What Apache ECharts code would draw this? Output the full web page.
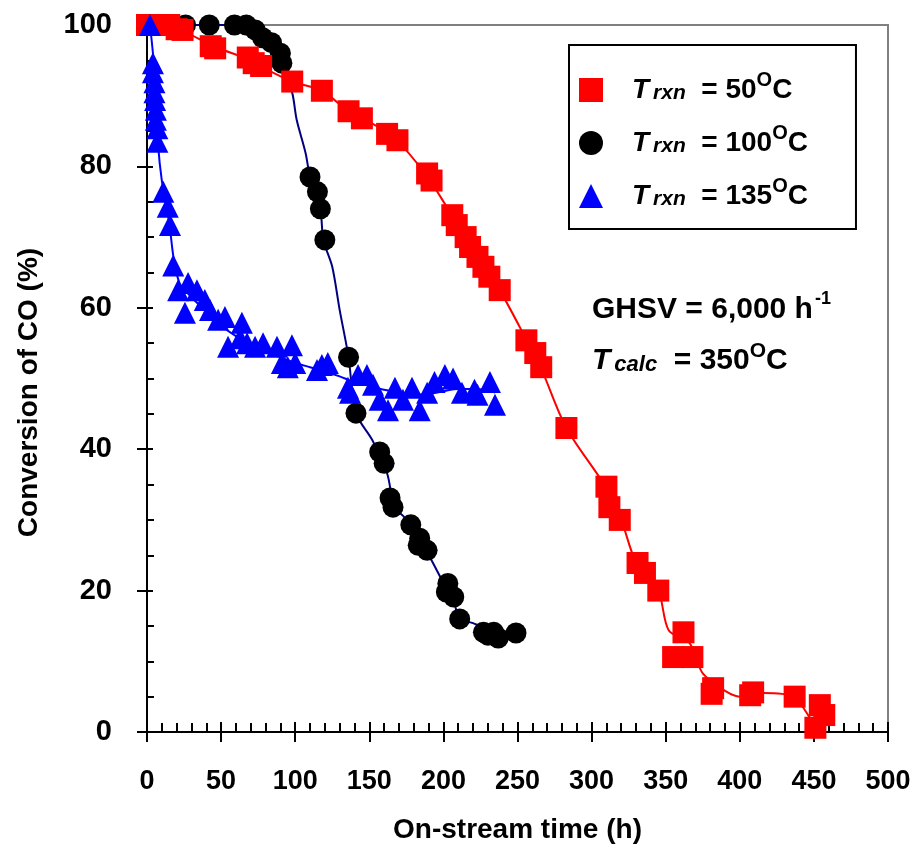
<!DOCTYPE html>
<html>
<head>
<meta charset="utf-8">
<script src="https://cdn.jsdelivr.net/npm/echarts@6/dist/echarts.min.js"></script>
<style>
  html, body { margin: 0; padding: 0; background: #fff; }
  #graphics { width: 914px; height: 852px; }
</style>
</head>
<body>
<div id="graphics"></div>
<script>
// Measured points, T_rxn = 50 C (red squares)
const redTime = [0, 7, 15, 20, 24, 43, 46, 68, 72, 77, 98, 118, 136, 145, 162, 169, 189, 192, 206, 209, 215, 218, 223, 227, 231, 238, 256, 262, 266, 283, 310, 312, 319, 331, 336, 345, 362, 355, 368, 382, 381, 407, 409, 437, 454, 457, 451];
const redConv = [100, 100, 100, 99.4, 99.3, 97, 96.7, 95.4, 94.6, 94.2, 92, 90.7, 87.8, 86.8, 84.6, 83.7, 79, 78, 73.1, 71.7, 70, 68.6, 67.2, 65.8, 64.4, 62.5, 55.4, 53.6, 51.6, 43, 34.7, 31.8, 30, 23.9, 22.5, 20, 14.1, 10.6, 10.6, 6.2, 5.4, 5.2, 5.6, 5, 3.8, 2.4, 0.6];

// Measured points, T_rxn = 100 C (black circles)
const blackTime = [26, 42, 59, 67, 73, 78, 84, 90, 91, 110, 115, 117, 120, 136, 141, 157, 160, 164, 166, 178, 184, 183, 189, 203, 202, 207, 211, 227, 230, 234, 237, 249];
const blackConv = [100, 100, 100, 100, 99.3, 98.2, 97.5, 96, 94.6, 78.5, 76.4, 74, 69.6, 53, 45.1, 39.6, 38, 33.1, 31.8, 29.3, 27.4, 26.4, 25.7, 21, 19.8, 19.1, 16, 14.1, 13.7, 14.1, 13.3, 14];

// Measured points, T_rxn = 135 C (blue triangles)
const blueTime = [2, 4, 4, 5, 5, 5.5, 6, 6, 7, 7, 11, 14, 15.5, 17.7, 21, 25.6, 27.7, 33.7, 39, 42.5, 48, 52.6, 54.7, 62.8, 64, 67.5, 72.9, 78.3, 87.7, 91, 95, 97.8, 100, 114.7, 118, 122, 135.6, 137, 142.4, 148.4, 152.5, 157, 162.6, 167.3, 172.7, 178.8, 184, 189, 194, 201, 206.5, 212.5, 221, 223, 231.4, 234.8];
const blueConv = [100, 94.6, 93.3, 91.9, 90.5, 89.4, 88, 86.6, 85.4, 83.5, 76.4, 74.3, 71.7, 66, 62.5, 59.3, 63.5, 62.5, 61.1, 59.7, 58.3, 58.7, 54.5, 55.7, 57.9, 55, 54.5, 55, 54.5, 52.2, 51.6, 54.7, 52.2, 51.2, 51.9, 52.2, 48.7, 48, 50.5, 50.5, 49.1, 47, 45.5, 48.7, 47, 48.7, 45.5, 48, 49.5, 50.5, 50, 48, 48.4, 47.7, 49.5, 46.3];

// Smoothed curves
const redCurveTime = [0, 10, 20, 26, 45, 70, 78, 98, 118, 136, 150, 167, 189, 206, 220, 238, 256, 266, 283, 310, 320, 330, 345, 352, 366, 375, 391, 400, 416, 436, 447, 451];
const redCurveConv = [100, 100, 99.4, 99, 97, 95, 94, 92, 90.7, 87.8, 86.3, 84, 78.6, 73, 68.5, 62.5, 55.5, 51.4, 43, 34.5, 30, 24, 20, 14.4, 12.6, 8.3, 5.7, 5, 5.5, 5, 2.1, 0.5];
const blackCurveTime = [0, 60, 73, 84, 91, 98, 101, 107, 110, 117, 119, 125, 130, 136, 141, 152, 162, 167, 174, 184, 192, 198, 206, 211, 220, 229, 247];
const blackCurveConv = [100, 100, 99.3, 97.5, 94.6, 90.4, 86.6, 81.9, 78.5, 73.8, 69.6, 65.8, 59.7, 53, 45.1, 41.3, 36.6, 31.8, 30.3, 27.2, 24.3, 21.9, 19.1, 16.1, 15.4, 14.7, 14];
const blueCurveTime = [2, 4, 6, 7.5, 10, 15, 18, 22, 30, 40, 50, 60, 70, 80, 90, 100, 110, 120, 130, 140, 150, 160, 170, 180, 190, 200, 210, 220, 230, 235];
const blueCurveConv = [100, 96, 90, 83, 78, 72, 67, 63.5, 61.5, 59.5, 57.5, 56, 55, 54, 53, 52.2, 51.6, 51, 50.3, 49.5, 49, 48.4, 48, 47.7, 47.8, 48.2, 48.5, 48.5, 48.3, 48];

const xTicks = [0, 50, 100, 150, 200, 250, 300, 350, 400, 450, 500];
const yTicks = [0, 20, 40, 60, 80, 100];

const legendTemps = ['50', '100', '135'];

function pairs(xs, ys) {
    return xs.map((x, i) => [x, ys[i]]);
}

const FONT = '"Liberation Sans", Arial, sans-serif';

var myChart = echarts.init(document.getElementById('graphics'));

// rich text pieces: main text sits in a 40px line, superscripts hang from the line top
const rich = {
    sp: { width: 24, lineHeight: 40 },
    it: { fontFamily: FONT, fontWeight: 'bold', fontStyle: 'italic', fontSize: 28, color: '#000', lineHeight: 40 },
    sub: { fontFamily: FONT, fontWeight: 'bold', fontStyle: 'italic', fontSize: 21, color: '#000', lineHeight: 40, padding: [6, 0, 0, 4] },
    n: { fontFamily: FONT, fontWeight: 'bold', fontSize: 28, color: '#000', lineHeight: 40 },
    sup: { fontFamily: FONT, fontWeight: 'bold', fontSize: 20, color: '#000', lineHeight: 22, verticalAlign: 'top' },
    n2: { fontFamily: FONT, fontWeight: 'bold', fontSize: 30, color: '#000', lineHeight: 40 },
    it2: { fontFamily: FONT, fontWeight: 'bold', fontStyle: 'italic', fontSize: 30, color: '#000', lineHeight: 40 },
    sub2: { fontFamily: FONT, fontWeight: 'bold', fontStyle: 'italic', fontSize: 22, color: '#000', lineHeight: 40, padding: [7, 0, 0, 4] },
    sup2: { fontFamily: FONT, fontWeight: 'bold', fontSize: 21, color: '#000', lineHeight: 17, verticalAlign: 'top' },
    supS: { fontFamily: FONT, fontWeight: 'bold', fontSize: 18, color: '#000', lineHeight: 16, verticalAlign: 'top', padding: [0, 0, 0, 2] }
};

var gridBox = { left: 147, right: 26, top: 25, bottom: 120 };

var option = {
    animation: false,
    backgroundColor: '#fff',
    grid: [
        Object.assign({ show: true, borderColor: '#808080', borderWidth: 2 }, gridBox),
        Object.assign({}, gridBox)
    ],
    legend: {
        orient: 'vertical',
        left: 569,
        top: 45,
        padding: [25, 48, 19, 10],
        itemGap: 19,
        itemWidth: 24,
        itemHeight: 24,
        borderColor: '#000',
        borderWidth: 2,
        data: legendTemps.map(t => 'T_rxn = ' + t + ' C'),
        formatter: function (name) {
            var t = name.replace('T_rxn = ', '').replace(' C', '');
            return '{sp|}{it|T}{sub|rxn}{n|  = ' + t + '}{sup|O}{n|C}';
        },
        textStyle: { rich: rich }
    },
    xAxis: [{
        type: 'value', gridIndex: 0, min: 0, max: 500, interval: 50,
        name: 'On-stream time (h)', nameLocation: 'middle', nameGap: 84,
        nameTextStyle: { fontFamily: FONT, fontWeight: 'bold', fontSize: 28, color: '#000' },
        axisLine: { show: true, onZero: false, lineStyle: { color: '#000', width: 2 } },
        axisTick: { show: true, inside: true, length: 10, lineStyle: { color: '#000', width: 2 } },
        minorTick: { show: true, splitNumber: 5, length: 9, lineStyle: { color: '#000', width: 2 } },
        splitLine: { show: false },
        axisLabel: {
            margin: 36, fontFamily: FONT, fontWeight: 'bold', fontSize: 27, color: '#000',
            formatter: v => xTicks.indexOf(v) >= 0 ? String(v) : ''
        }
    }, {
        type: 'value', gridIndex: 1, min: 0, max: 500, interval: 50,
        axisLine: { show: false },
        axisTick: { show: true, inside: false, length: 10, lineStyle: { color: '#000', width: 2 } },
        axisLabel: { show: false },
        splitLine: { show: false }
    }],
    yAxis: [{
        type: 'value', gridIndex: 0, min: 0, max: 100, interval: 20,
        name: 'Conversion of CO (%)', nameLocation: 'middle', nameGap: 104,
        nameTextStyle: { fontFamily: FONT, fontWeight: 'bold', fontSize: 28, color: '#000', padding: [0, 28, 0, 0] },
        axisLine: { show: true, onZero: false, lineStyle: { color: '#000', width: 2 } },
        axisTick: { show: true, inside: true, length: 6, lineStyle: { color: '#000', width: 2 } },
        minorTick: { show: true, splitNumber: 4, length: 7, lineStyle: { color: '#000', width: 2 } },
        splitLine: { show: false },
        axisLabel: {
            margin: 35, fontFamily: FONT, fontWeight: 'bold', fontSize: 29, color: '#000',
            formatter: v => yTicks.indexOf(v) >= 0 ? String(v) : ''
        }
    }, {
        type: 'value', gridIndex: 1, min: 0, max: 100, interval: 20,
        axisLine: { show: false },
        axisTick: { show: true, inside: false, length: 10, lineStyle: { color: '#000', width: 2 } },
        axisLabel: { show: false },
        splitLine: { show: false }
    }],
    graphic: [{
        type: 'text', left: 592, top: 290,
        style: { text: '{n2|GHSV = 6,000 h}{supS|-1}', rich: rich }
    }, {
        type: 'text', left: 592, top: 341,
        style: { text: '{it2|T}{sub2|calc}{n2|  = 350}{sup2|O}{n2|C}', rich: rich }
    }],
    series: [{
        type: 'line', xAxisIndex: 0, yAxisIndex: 0, z: 2,
        data: pairs(blackCurveTime, blackCurveConv), smooth: 0.3, showSymbol: false,
        lineStyle: { color: '#000080', width: 2 }
    }, {
        type: 'line', xAxisIndex: 0, yAxisIndex: 0, z: 2,
        data: pairs(redCurveTime, redCurveConv), smooth: 0.3, showSymbol: false,
        lineStyle: { color: '#ff0000', width: 2 }
    }, {
        type: 'line', xAxisIndex: 0, yAxisIndex: 0, z: 2,
        data: pairs(blueCurveTime, blueCurveConv), smooth: 0.3, showSymbol: false,
        lineStyle: { color: '#0000ff', width: 2 }
    }, {
        name: 'T_rxn = 100 C', type: 'scatter', xAxisIndex: 0, yAxisIndex: 0, z: 3,
        data: pairs(blackTime, blackConv), symbol: 'circle', symbolSize: 21,
        itemStyle: { color: '#000', opacity: 1 }
    }, {
        name: 'T_rxn = 50 C', type: 'scatter', xAxisIndex: 0, yAxisIndex: 0, z: 4,
        data: pairs(redTime, redConv), symbol: 'rect', symbolSize: 22,
        itemStyle: { color: '#ff0000', opacity: 1 }
    }, {
        name: 'T_rxn = 135 C', type: 'scatter', xAxisIndex: 0, yAxisIndex: 0, z: 5,
        data: pairs(blueTime, blueConv), symbol: 'triangle', symbolSize: [22, 22],
        itemStyle: { color: '#0000ff', opacity: 1 }
    }]
};

myChart.setOption(option);
</script>
</body>
</html>
